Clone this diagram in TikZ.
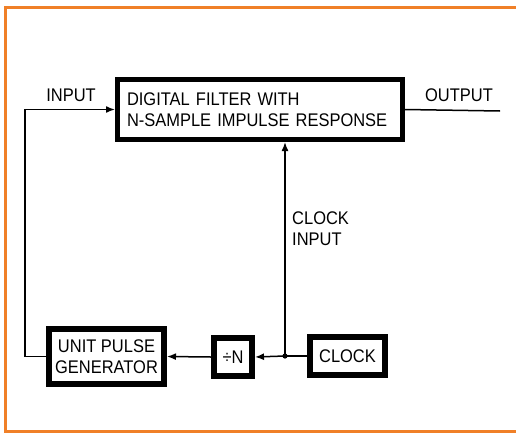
\documentclass[tikz,border=0pt]{standalone}
\usepackage{fontspec}
\setmainfont{Liberation Sans}[FakeStretch=0.9]
\usetikzlibrary{arrows.meta,calc}
\definecolor{frameorange}{RGB}{240,128,40}
\begin{document}
\begin{tikzpicture}[x=1pt,y=-1pt,
  lbl/.style={font=\fontsize{18.3}{21}\selectfont, inner sep=0pt},
  heavybox/.style={draw, line width=6pt, fill=white, font=\fontsize{18.3}{21}\selectfont, inner sep=0pt, align=center},
  conn/.style={line width=1.5pt},
  arr/.style={conn, -{Latex[length=9pt,width=7pt]}}]
\useasboundingbox (0,0) rectangle (516,434);
\draw[frameorange, line width=3pt] (525,7) -- (5,7) -- (5,431) -- (525,431);

\node[heavybox, line width=5pt, minimum width=285pt, minimum height=60pt, text width=266pt, align=left] (filter) at (260,109.5)
  {DIGITAL FILTER WITH\\N-SAMPLE IMPULSE RESPONSE};
\node[heavybox, minimum width=115pt, minimum height=55pt] (upg) at (106.5,356.5) {UNIT PULSE\\GENERATOR};
\node[heavybox, minimum width=38pt, minimum height=38pt] (divn) at (233,357) {÷N};
\node[heavybox, minimum width=75pt, minimum height=38pt] (clock) at (347.5,356) {CLOCK};

\node[lbl] (inlbl) at (71,95) {INPUT};
\node[lbl] (outlbl) at (459,95) {OUTPUT};
\node[lbl, anchor=west, align=left] (cklbl) at (292,229) {CLOCK\\INPUT};

\coordinate (j) at (285,356);
\coordinate (out) at (500,111);
\draw[conn] (clock.west) -- (j);
\fill (j) circle (2.6pt);
\draw[arr] (j) -- (divn.east);
\draw[arr] (j) -- (j |- filter.south);
\draw[arr] (divn.west) -- (upg.east);
\draw[arr] (upg.west) -- ++(-21,0) |- (filter.west);
\draw[conn] (filter.east) -- (out);
\end{tikzpicture}
\end{document}
